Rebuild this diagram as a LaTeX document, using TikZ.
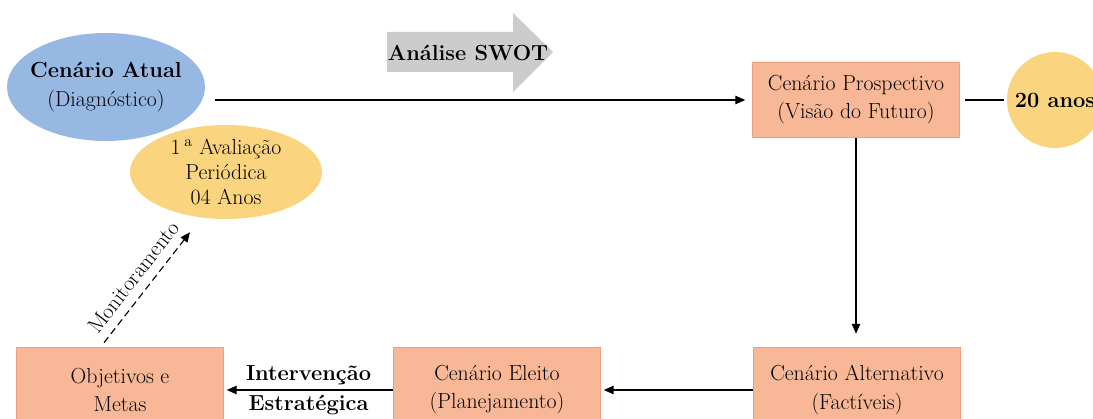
\documentclass[tikz,border=0pt]{standalone}
\usetikzlibrary{shapes.geometric,arrows.meta}

\newcommand{\px}{0.025cm}
\definecolor{BoxSalmon}{RGB}{248,184,152}
\definecolor{BoxEdge}{RGB}{236,160,124}
\definecolor{EllBlue}{RGB}{150,184,227}
\definecolor{EllYellow}{RGB}{250,212,126}
\definecolor{ArrGray}{RGB}{204,204,204}

\tikzset{
  every node/.style={font=\rmfamily\fontsize{15.5}{20}\selectfont},
  scenbox/.style={rectangle, draw=BoxEdge, fill=BoxSalmon, align=center,
    inner sep=0pt, minimum width=207*\px, minimum height=#1*\px},
  scenell/.style={ellipse, fill=#1, align=center, inner sep=0pt},
  conn/.style={->, line width=0.8pt},
}

\begin{document}
\begin{tikzpicture}[x=\px, y=-\px, >={Triangle[length=7pt,width=6pt]}]
      \useasboundingbox (0,0) rectangle (1093,419);
      \clip (0,0) rectangle (1093,419);

      % top row
      \node (atual) [scenell=EllBlue, minimum width=198*\px, minimum height=108*\px] at (106,87) {};
      \node (atualtxt) [align=center] at (atual.center) {
        \textbf{Cenário Atual} \\
        (Diagnóstico)
      };
      \node (aval) [scenell=EllYellow, minimum width=192*\px, minimum height=94*\px,
        font=\rmfamily\fontsize{15.5}{18}\selectfont] at (226,172) {
        1\,\textsuperscript{a} Avaliação \\
        Periódica \\
        04 Anos
      };
      \fill[ArrGray] (387,32) -- (513,32) -- (513,13) -- (553,52) -- (513,92)
        -- (513,72) -- (387,72) -- cycle;
      \node (swot) at (468,53) {\textbf{Análise SWOT}};
      \node (prosp) [scenbox=75] at (856,100) {
        Cenário Prospectivo \\
        (Visão do Futuro)
      };
      \node (anos) [circle, fill=EllYellow, inner sep=0pt, minimum size=96*\px] at (1055,100) {
        \textbf{20 anos}
      };

      % bottom row
      \node (alt) [scenbox=86] at (857,390) {
        Cenário Alternativo \\
        (Factíveis)
      };
      \node (eleito) [scenbox=86] at (497,390) {
        Cenário Eleito \\
        (Planejamento)
      };
      \node (obj) [scenbox=86] at (120,390) {
        Objetivos e \\
        Metas
      };

      \draw[conn, shorten <=10*\px, shorten >=7*\px] (atual.east |- prosp.west) -- (prosp.west);
      \draw[line width=0.8pt, shorten <=5*\px, shorten >=3*\px] (prosp.east) -- (anos.west);
      \draw[conn, shorten >=13*\px] (prosp.south) -- (prosp.south |- alt.north);
      \draw[conn, shorten >=3*\px] (alt.west) -- (eleito.east);
      \draw[conn, shorten >=3*\px] (eleito.west) -- (obj.east)
        node [midway, above] {\textbf{Intervenção}}
        node [midway, below] {\textbf{Estratégica}};
      \draw[conn, dashed, dash pattern=on 5pt off 3pt] ([xshift=-16*\px, yshift=4*\px]obj.north)
        -- ([xshift=-36*\px, yshift=-13*\px]aval.south)
        node [midway, sloped, above=3pt] {Monitoramento};
    \end{tikzpicture}
\end{document}
